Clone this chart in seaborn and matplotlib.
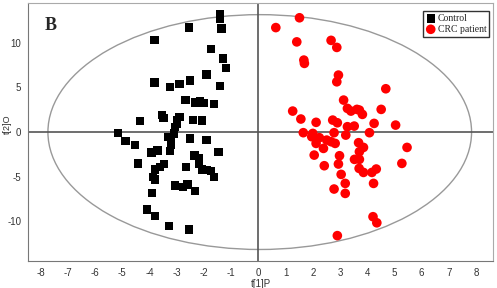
import numpy as np
import pandas as pd
import matplotlib
matplotlib.use("Agg")
import matplotlib.pyplot as plt
from matplotlib.patches import Ellipse
from matplotlib.ticker import MultipleLocator
import seaborn as sns

# scores
control_t1 = [-1.40, -1.40, -1.35, -2.56, -3.82, -1.74, -1.31, -1.20, -1.90, -3.81,
              -3.25, -2.90, -2.51, -1.41, -2.68, -2.34, -2.14, -2.02, -1.64, -4.35,
              -3.55, -3.49, -2.90, -2.98, -2.39, -2.06, -3.00, -3.06, -3.10, -3.31,
              -3.22, -3.21, -3.25,
              -5.15, -4.88, -4.54, -3.93, -3.70, -2.51, -1.90, -1.47, -4.41, -2.35,
              -2.19, -2.18, -2.08, -1.90, -1.74, -1.63, -2.66, -3.46, -3.61, -3.80,
              -3.86, -3.80, -3.06, -2.76, -2.60, -2.33, -3.91, -4.08, -3.80, -3.28,
              -2.56]
control_t2 = [13.2, 12.7, 11.6, 11.7, 10.3, 9.3, 8.25, 7.2, 6.46, 5.56,
              5.07, 5.37, 5.79, 5.19, 3.58, 3.32, 3.51, 3.28, 3.17, 1.23,
              1.90, 1.60, 1.71, 1.34, 1.34, 1.31, 0.97, 0.55, -0.15, -0.52,
              -0.97, -1.46, -2.13,
              -0.07, -1.00, -1.46, -2.28, -2.05, -0.71, -0.90, -2.24, -3.51, -2.61,
              -2.95, -3.51, -4.18, -4.26, -4.33, -5.07, -3.95, -3.58, -3.88, -4.18,
              -5.07, -5.30, -5.97, -6.19, -5.86, -6.57, -6.79, -8.66, -9.37, -10.53,
              -10.90]

crc_t1 = [1.51, 0.64, 1.41, 2.67, 2.88, 1.67, 1.69, 2.94, 2.88, 4.68,
          3.13, 3.27, 3.40, 3.62, 3.71, 3.82, 4.51, 1.26, 1.56, 2.12,
          2.73, 2.90, 4.25, 5.04, 3.27, 3.52,
          1.65, 2.00, 1.96, 2.24, 2.51, 2.67, 2.82, 2.12, 2.39, 2.78,
          3.21, 4.08, 3.68, 3.86, 3.71, 5.46, 2.05, 2.98, 3.53, 3.71,
          2.94, 2.42, 5.27, 3.70, 3.86, 4.17, 4.33, 3.04, 3.19, 4.23,
          2.78, 3.19, 4.21, 4.35, 2.90]
crc_t2 = [12.8, 11.7, 10.1, 10.27, 9.48, 8.06, 7.69, 6.38, 5.63, 4.85,
          3.58, 2.65, 2.35, 2.54, 2.46, 1.98, 2.54, 2.35, 1.46, 1.09,
          1.34, 1.04, 0.97, 0.78, 0.60, 0.67,
          -0.07, -0.15, -0.52, -0.63, -0.90, -1.08, -1.27, -1.27, -1.83, -0.07,
          -0.34, -0.07, -1.19, -1.72, -2.20, -1.72, -2.58, -2.65, -3.06, -3.06,
          -3.58, -3.77, -3.51, -4.07, -4.52, -4.52, -4.14, -4.74, -5.75, -5.75,
          -6.38, -6.87, -9.48, -10.16, -11.60]

ellipse_a = 7.78
ellipse_b = 13.15

control = pd.DataFrame({"t1": control_t1, "t2": control_t2})
crc = pd.DataFrame({"t1": crc_t1, "t2": crc_t2})

sns.set_style("white")
plt.rcParams['font.family'] = ['Liberation Sans', 'DejaVu Sans']

fig = plt.figure(figsize=(4.97, 2.88), dpi=100)
ax = fig.add_axes([0.057, 0.095, 0.934, 0.896])

ax.add_patch(Ellipse((0.05, 0), 2 * ellipse_a, 2 * ellipse_b, fill=False,
                     edgecolor="#999999", linewidth=1.0, zorder=1))
ax.axhline(0, color="#555555", linewidth=1.2, zorder=1)
ax.axvline(0, color="#555555", linewidth=1.2, zorder=1)

sns.scatterplot(data=control, x="t1", y="t2", marker="s", color="black",
                s=36, edgecolor="none", label="Control", ax=ax, zorder=3)
sns.scatterplot(data=crc, x="t1", y="t2", marker="o", color="#ff0000",
                s=48, edgecolor="none", label="CRC patient", ax=ax, zorder=3)

ax.set_xlim(-8.45, 8.6)
ax.set_ylim(-14.4, 14.5)
ax.xaxis.set_major_locator(MultipleLocator(1))
ax.xaxis.set_minor_locator(MultipleLocator(0.25))
ax.yaxis.set_major_locator(MultipleLocator(5))
ax.yaxis.set_minor_locator(MultipleLocator(1.25))
ax.tick_params(which="both", direction="inout", colors="#888888",
               labelcolor="#333333", labelsize=7)
ax.tick_params(which="major", length=3, width=0.8)
ax.tick_params(which="minor", length=2, width=0.6)
fmt = matplotlib.ticker.FuncFormatter(lambda v, p: f"{v:g}")
ax.xaxis.set_major_formatter(fmt)
ax.yaxis.set_major_formatter(fmt)

ax.set_xlabel("t[1]P", fontsize=7, color="#333333", labelpad=1)
ax.set_ylabel("t[2]O", fontsize=6.5, color="#333333")
ax.yaxis.set_label_coords(-0.036, 0.53)

for side in ["left", "bottom"]:
    ax.spines[side].set_color("#777777")
for side in ["top", "right"]:
    ax.spines[side].set_color("#aaaaaa")

ax.text(0.036, 0.91, "B", transform=ax.transAxes, fontsize=13, fontweight="bold",
        family=["Liberation Serif", "DejaVu Serif"], va="center", ha="left")

leg = ax.legend(loc="upper right", bbox_to_anchor=(0.997, 0.975), frameon=True,
                fancybox=False, edgecolor="black", borderpad=0.3,
                labelspacing=0.2, handletextpad=0.2, handlelength=1.0,
                borderaxespad=0.2, prop={"family": ["Liberation Serif", "DejaVu Serif"], "size": 7})
leg.get_frame().set_linewidth(1.0)

fig.savefig("out.png", dpi=100)
